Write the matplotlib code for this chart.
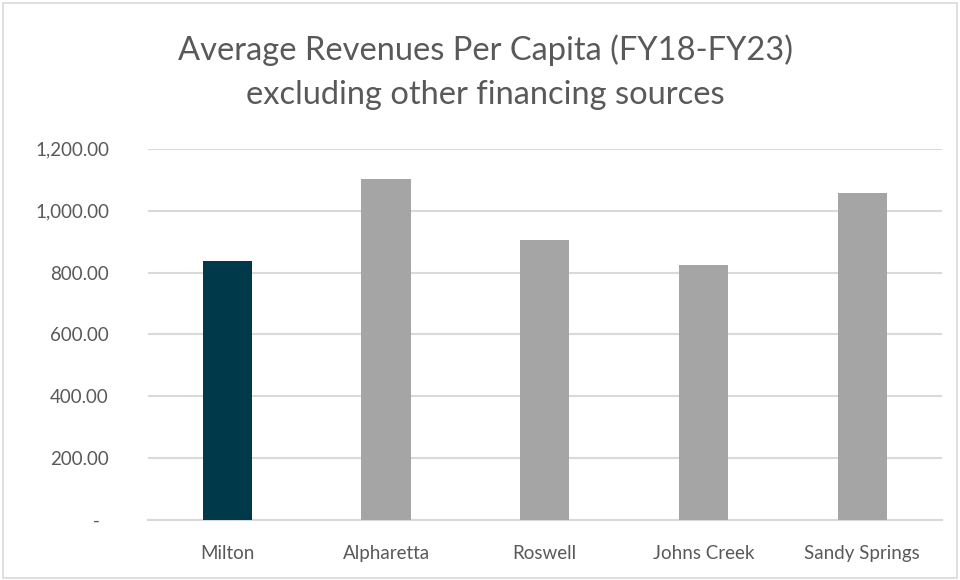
import matplotlib.pyplot as plt
from matplotlib.patches import Rectangle

# Data
cities = ['Milton', 'Alpharetta', 'Roswell', 'Johns Creek', 'Sandy Springs']
revenue_per_capita = [837, 1102, 904, 825, 1057]
bar_colors = ['#003A4A', '#A5A5A5', '#A5A5A5', '#A5A5A5', '#A5A5A5']
yticks = [0, 200, 400, 600, 800, 1000, 1200]

plt.rcParams['font.family'] = ['Lato', 'DejaVu Sans']
text_color = '#595959'
grid_color = '#D9D9D9'

fig = plt.figure(figsize=(9.6, 5.8), dpi=100)
ax = fig.add_axes([0.154, 0.1034, 0.827, 0.640])

ax.bar(cities, revenue_per_capita, width=0.31, color=bar_colors, zorder=3)

ax.set_ylim(0, 1200)
ax.set_xlim(-0.5, len(cities) - 0.5)
ax.set_yticks(yticks)
ax.set_yticklabels(['-  ' if v == 0 else f'{v:,.2f}' for v in yticks])
ax.yaxis.grid(True, color=grid_color, linewidth=1.5, zorder=0)

for side in ['top', 'right', 'left']:
    ax.spines[side].set_visible(False)
ax.spines['bottom'].set_color(grid_color)
ax.spines['bottom'].set_linewidth(1.5)
ax.tick_params(axis='both', length=0, labelsize=13.5, colors=text_color)
ax.tick_params(axis='y', pad=28)
ax.tick_params(axis='x', pad=18)

fig.text(0.506, 0.913, 'Average Revenues Per Capita (FY18-FY23)',
         ha='center', va='center', fontsize=23.5, color=text_color)
fig.text(0.506, 0.836, 'excluding other financing sources',
         ha='center', va='center', fontsize=23.5, color=text_color)

# light chart border
fig.patches.append(Rectangle((0.003, 0.003), 0.994, 0.992, transform=fig.transFigure,
                             fill=False, edgecolor='#D9D9D9', linewidth=1.2))

fig.savefig('out.png', dpi=100)
